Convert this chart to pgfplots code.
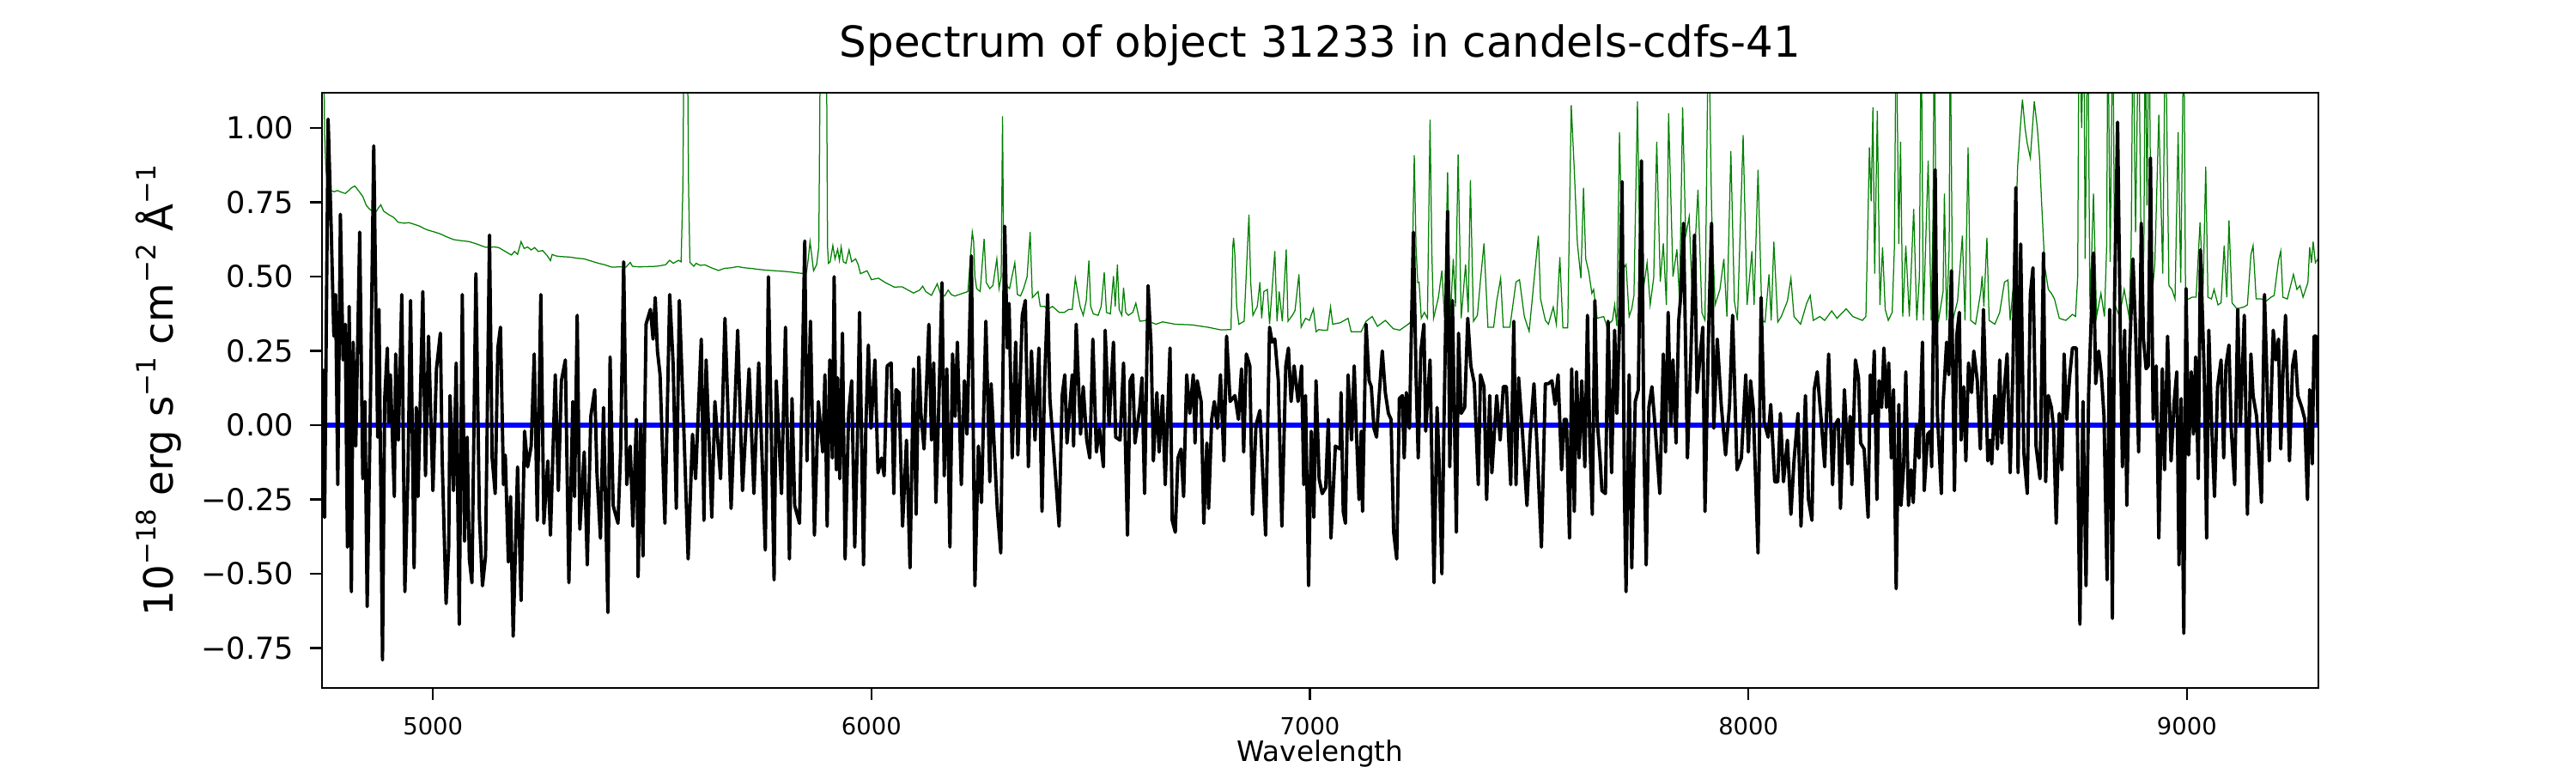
\documentclass[border=0pt]{standalone}
\usepackage{fontspec}
\setmainfont{DejaVu Sans}
\usepackage{pgfplots}
\pgfplotsset{compat=1.18}
\definecolor{mplgreen}{RGB}{0,128,0}
\definecolor{mplblue}{RGB}{0,0,255}
\newcommand\sups[1]{\raisebox{0.43em}{\fontsize{11.2}{12}\selectfont #1}}
\begin{document}
\begin{tikzpicture}
\path[use as bounding box] (0bp,0bp) rectangle (1080bp,324bp);
\begin{axis}[
  at={(135bp,35.64bp)}, anchor=south west,
  scale only axis, width=837bp, height=249.48bp,
  xmin=4747, xmax=9300, ymin=-0.884, ymax=1.119,
  clip mode=individual,
  axis line style={line width=0.9bp},
  axis on top,
  tick align=outside, major tick length=5bp,
  every tick/.style={line width=0.9bp, black},
  xtick pos=left, ytick pos=left,
  xtick={5000,6000,7000,8000,9000},
  xticklabels={5000,6000,7000,8000,9000},
  ytick={-0.75,-0.5,-0.25,0,0.25,0.5,0.75,1},
  yticklabels={−0.75,−0.50,−0.25,0.00,0.25,0.50,0.75,1.00},
  xticklabel style={font=\fontsize{9.9}{12}\selectfont, anchor=north, inner sep=0pt, yshift=-7.1bp},
  yticklabel style={font=\fontsize{12.7}{15}\selectfont, anchor=east, inner sep=0pt, xshift=-6.6bp},
  title={Spectrum of object 31233 in candels-cdfs-41},
  title style={font=\fontsize{18}{21}\selectfont, at={(axis description cs:0.5,1)}, anchor=base, inner sep=0pt, yshift=8.9bp},
  xlabel={Wavelength},
  xlabel style={font=\fontsize{11.8}{14}\selectfont, at={(axis description cs:0.5,0)}, anchor=base, inner sep=0pt, yshift=-30.8bp},
]
% error / sky spectrum
\addplot[mplgreen, line width=0.45bp] coordinates {
(4748,1.40) (4751,1.25) (4753,0.98) (4756,0.86) (4760,0.81) (4766,0.79) (4775,0.786) (4782,0.79) (4790,0.785) (4800,0.78)
(4808,0.79) (4815,0.80) (4822,0.805) (4830,0.79) (4840,0.77) (4848,0.74) (4855,0.728) (4862,0.72) (4869,0.715) (4875,0.73)
(4881,0.742) (4888,0.72) (4899,0.709) (4910,0.70) (4921,0.683) (4935,0.68) (4945,0.682) (4958,0.676) (4970,0.67) (4980,0.662)
(4988,0.657) (5000,0.652) (5017,0.644) (5030,0.635) (5047,0.625) (5060,0.622) (5083,0.618) (5100,0.61) (5120,0.599) (5140,0.600)
(5150,0.598) (5165,0.585) (5179,0.573) (5186,0.585) (5193,0.575) (5201,0.618) (5208,0.595) (5216,0.600) (5224,0.590) (5232,0.598)
(5240,0.585) (5250,0.588) (5260,0.572) (5268,0.554) (5272,0.575) (5280,0.570) (5290,0.568) (5312,0.566) (5330,0.562) (5345,0.560)
(5360,0.553) (5378,0.545) (5392,0.540) (5408,0.532) (5425,0.533) (5440,0.532) (5450,0.548) (5455,0.535) (5470,0.533) (5490,0.534)
(5510,0.535) (5530,0.540) (5540,0.555) (5548,0.545) (5560,0.555) (5566,0.550) (5570,0.80) (5573,1.40) (5577,1.40) (5580,1.40)
(5583,0.80) (5586,0.548) (5595,0.535) (5600,0.545) (5610,0.538) (5620,0.540) (5635,0.530) (5651,0.521) (5665,0.528) (5680,0.530)
(5695,0.534) (5710,0.530) (5725,0.528) (5740,0.525) (5760,0.522) (5780,0.520) (5800,0.518) (5815,0.516) (5830,0.513) (5842,0.511)
(5852,0.515) (5856,0.56) (5860,0.618) (5864,0.57) (5868,0.52) (5875,0.54) (5880,0.60) (5884,1.40) (5892,1.40) (5897,1.40)
(5900,0.60) (5902,0.545) (5906,0.55) (5912,0.605) (5917,0.56) (5923,0.592) (5927,0.555) (5931,0.60) (5936,0.55) (5942,0.545)
(5949,0.59) (5955,0.55) (5964,0.56) (5970,0.54) (5975,0.51) (5990,0.52) (6000,0.49) (6016,0.495) (6032,0.48) (6052,0.465)
(6070,0.466) (6096,0.445) (6110,0.455) (6117,0.468) (6124,0.45) (6137,0.437) (6150,0.476) (6158,0.44) (6167,0.435) (6175,0.455)
(6182,0.44) (6190,0.435) (6200,0.44) (6210,0.445) (6220,0.45) (6230,0.65) (6233,0.62) (6236,0.50) (6240,0.46) (6248,0.45)
(6257,0.627) (6262,0.48) (6270,0.46) (6277,0.47) (6286,0.56) (6291,0.46) (6296,0.50) (6299,1.04) (6302,0.48) (6308,0.47)
(6315,0.46) (6327,0.547) (6333,0.44) (6340,0.435) (6347,0.46) (6355,0.50) (6362,0.65) (6367,0.43) (6374,0.44) (6380,0.45)
(6385,0.40) (6395,0.40) (6402,0.39) (6413,0.40) (6428,0.38) (6440,0.38) (6450,0.39) (6458,0.39) (6465,0.495) (6470,0.45)
(6476,0.40) (6483,0.37) (6490,0.42) (6496,0.554) (6500,0.40) (6506,0.375) (6517,0.37) (6524,0.40) (6531,0.515) (6536,0.38)
(6545,0.375) (6552,0.502) (6556,0.40) (6561,0.541) (6565,0.39) (6571,0.37) (6575,0.463) (6580,0.38) (6586,0.37) (6596,0.38)
(6603,0.411) (6612,0.35) (6627,0.353) (6649,0.34) (6664,0.348) (6693,0.34) (6730,0.338) (6767,0.33) (6797,0.321) (6820,0.322)
(6824,0.60) (6826,0.631) (6829,0.57) (6833,0.40) (6838,0.34) (6850,0.35) (6861,0.709) (6865,0.48) (6870,0.37) (6880,0.40)
(6886,0.482) (6890,0.36) (6895,0.45) (6903,0.457) (6908,0.34) (6920,0.586) (6925,0.35) (6930,0.45) (6937,0.35) (6946,0.592)
(6950,0.35) (6960,0.37) (6966,0.386) (6975,0.508) (6980,0.33) (6990,0.36) (6999,0.353) (7008,0.392) (7014,0.315) (7020,0.322)
(7030,0.32) (7040,0.32) (7047,0.398) (7052,0.34) (7069,0.345) (7087,0.36) (7094,0.315) (7117,0.315) (7128,0.35) (7142,0.366)
(7154,0.333) (7172,0.353) (7190,0.325) (7205,0.32) (7224,0.34) (7232,0.35) (7236,0.75) (7238,0.909) (7242,0.60) (7246,0.48)
(7249,0.482) (7254,0.36) (7261,0.38) (7268,0.36) (7274,1.028) (7278,0.586) (7282,0.36) (7293,0.43) (7301,0.521) (7307,0.36)
(7314,0.851) (7320,0.36) (7327,0.56) (7332,0.40) (7338,0.911) (7345,0.36) (7355,0.541) (7361,0.38) (7366,0.825) (7373,0.35)
(7382,0.37) (7389,0.489) (7397,0.612) (7406,0.33) (7419,0.33) (7426,0.418) (7435,0.495) (7441,0.33) (7456,0.33) (7470,0.482)
(7478,0.49) (7489,0.366) (7500,0.316) (7521,0.638) (7526,0.425) (7537,0.353) (7544,0.34) (7555,0.398) (7562,0.34) (7570,0.566)
(7577,0.328) (7588,0.328) (7596,1.077) (7603,0.857) (7610,0.612) (7618,0.495) (7624,0.799) (7629,0.56) (7636,0.515) (7643,0.444)
(7647,0.457) (7655,0.36) (7670,0.366) (7677,0.334) (7690,0.353) (7695,0.405) (7700,0.334) (7706,0.986) (7713,0.521) (7721,0.541)
(7728,0.366) (7734,0.392) (7739,0.437) (7747,1.09) (7754,0.405) (7761,0.463) (7769,0.547) (7776,0.405) (7784,0.496) (7791,0.954)
(7799,0.483) (7806,0.612) (7813,0.405) (7818,1.05) (7828,0.50) (7837,0.592) (7843,0.418) (7850,1.07) (7857,0.638) (7865,0.702)
(7872,0.424) (7885,0.793) (7894,0.379) (7901,0.353) (7909,1.40) (7916,0.728) (7924,0.405) (7935,0.457) (7944,0.56) (7951,0.366)
(7960,0.922) (7968,0.418) (7975,0.353) (7988,0.976) (7997,0.405) (8008,0.586) (8013,0.405) (8022,0.86) (8031,0.353) (8038,0.347)
(8047,0.508) (8052,0.353) (8058,0.618) (8067,0.347) (8075,0.366) (8089,0.418) (8097,0.495) (8104,0.366) (8119,0.34) (8133,0.411)
(8141,0.437) (8148,0.353) (8163,0.366) (8174,0.353) (8190,0.385) (8202,0.36) (8223,0.392) (8238,0.366) (8260,0.353) (8268,0.366)
(8276,0.935) (8280,0.754) (8284,1.07) (8288,0.51) (8294,1.058) (8300,0.405) (8306,0.599) (8312,0.39) (8319,0.353) (8328,0.38)
(8333,0.60) (8337,1.40) (8343,0.61) (8347,0.954) (8352,0.366) (8359,0.605) (8367,0.366) (8377,0.728) (8384,0.353) (8390,0.50)
(8394,1.40) (8399,0.353) (8410,0.89) (8417,0.353) (8421,0.70) (8424,1.40) (8428,0.61) (8433,0.347) (8444,0.45) (8447,0.78)
(8452,0.353) (8458,0.60) (8460,1.40) (8466,0.353) (8477,0.418) (8488,0.638) (8494,0.353) (8501,0.935) (8507,0.353) (8518,0.34)
(8530,0.45) (8533,0.502) (8537,0.40) (8544,0.631) (8549,0.353) (8562,0.34) (8573,0.379) (8584,0.482) (8592,0.489) (8597,0.353)
(8606,0.50) (8614,0.87) (8620,1.00) (8625,1.096) (8631,1.00) (8636,0.948) (8643,0.90) (8652,1.09) (8659,1.00) (8664,0.90)
(8669,0.74) (8676,0.534) (8684,0.457) (8691,0.444) (8698,0.425) (8709,0.36) (8724,0.353) (8739,0.373) (8746,0.366) (8751,0.50)
(8754,1.40) (8760,1.00) (8765,1.40) (8768,0.56) (8774,1.40) (8779,0.39) (8787,0.78) (8794,0.366) (8804,0.444) (8812,0.366)
(8817,0.60) (8820,1.40) (8825,0.55) (8831,1.40) (8836,0.405) (8846,0.366) (8857,0.457) (8868,0.366) (8873,0.60) (8877,1.40)
(8883,0.65) (8890,1.40) (8897,0.379) (8902,0.60) (8905,1.40) (8909,0.74) (8914,1.40) (8919,0.405) (8927,0.547) (8936,1.045)
(8945,0.51) (8951,1.40) (8959,0.47) (8966,0.457) (8973,0.425) (8980,0.986) (8986,0.48) (8993,1.40) (8997,0.418) (9004,0.425)
(9012,0.431) (9021,0.431) (9030,0.683) (9037,0.457) (9043,0.87) (9048,0.431) (9056,0.425) (9062,0.457) (9071,0.405) (9078,0.412)
(9085,0.605) (9091,0.431) (9096,0.689) (9103,0.412) (9114,0.392) (9130,0.398) (9138,0.405) (9146,0.573) (9151,0.605) (9158,0.425)
(9170,0.425) (9181,0.418) (9192,0.431) (9199,0.437) (9209,0.554) (9214,0.586) (9219,0.431) (9229,0.425) (9243,0.508) (9251,0.457)
(9258,0.47) (9265,0.431) (9276,0.48) (9280,0.599) (9284,0.547) (9288,0.618) (9293,0.547) (9299,0.56) (9302,0.56)
};
% continuum model
\addplot[mplblue, line width=2.3bp] coordinates {(4747,0) (9300,0)};
% flux
\addplot[black, line width=1.4bp, line join=round] coordinates {
(4748,0.19) (4753,-0.31) (4761,1.03) (4768,0.66) (4774,0.30) (4778,0.44) (4783,-0.20) (4789,0.71) (4795,0.22) (4800,0.34)
(4805,-0.41) (4809,0.40) (4814,-0.56) (4818,0.28) (4824,-0.07) (4833,0.65) (4840,-0.18) (4845,0.08) (4850,-0.61) (4857,0.03)
(4865,0.94) (4870,0.39) (4874,-0.04) (4877,0.39) (4885,-0.79) (4890,0.09) (4896,0.26) (4899,0.01) (4903,0.17) (4912,-0.24)
(4915,0.24) (4921,-0.05) (4929,0.44) (4936,-0.56) (4943,-0.16) (4949,0.42) (4957,-0.48) (4962,0.06) (4966,-0.24) (4977,0.45)
(4983,-0.17) (4990,0.30) (5000,-0.22) (5008,0.19) (5017,0.31) (5021,-0.11) (5030,-0.60) (5036,-0.41) (5039,0.10) (5047,-0.22)
(5053,0.21) (5060,-0.67) (5067,0.44) (5072,-0.39) (5078,-0.04) (5083,-0.45) (5089,-0.53) (5098,0.51) (5106,-0.31) (5113,-0.54)
(5120,-0.44) (5129,0.64) (5135,-0.11) (5142,-0.23) (5148,0.26) (5154,0.33) (5161,-0.20) (5165,-0.10) (5172,-0.46) (5177,-0.24)
(5183,-0.71) (5193,-0.14) (5201,-0.59) (5209,-0.02) (5216,-0.14) (5224,-0.07) (5231,0.24) (5238,-0.32) (5246,0.44) (5253,-0.33)
(5262,-0.12) (5268,-0.37) (5279,0.17) (5286,-0.22) (5293,0.15) (5302,0.22) (5310,-0.53) (5319,0.08) (5323,-0.24) (5329,0.37)
(5335,-0.35) (5345,-0.09) (5352,-0.47) (5360,0.03) (5369,0.12) (5374,-0.16) (5382,-0.38) (5389,0.06) (5399,-0.63) (5404,0.23)
(5411,-0.27) (5422,-0.33) (5428,-0.09) (5435,0.55) (5442,-0.20) (5450,-0.07) (5456,-0.34) (5464,0.02) (5468,-0.51) (5474,0.00)
(5479,-0.44) (5486,0.34) (5496,0.39) (5502,0.29) (5507,0.43) (5512,0.25) (5518,0.17) (5529,-0.33) (5540,0.44) (5548,0.20)
(5555,-0.28) (5562,0.42) (5573,-0.05) (5582,-0.45) (5592,-0.03) (5599,-0.18) (5612,0.29) (5618,-0.32) (5623,0.22) (5636,-0.31)
(5643,0.08) (5656,-0.18) (5666,0.36) (5680,-0.28) (5695,0.32) (5706,-0.22) (5721,0.19) (5732,-0.23) (5743,0.21) (5758,-0.42)
(5765,0.50) (5778,-0.52) (5783,0.15) (5795,-0.23) (5804,0.33) (5813,-0.45) (5819,0.09) (5825,-0.27) (5836,-0.33) (5848,0.62)
(5853,-0.12) (5861,0.35) (5870,-0.37) (5879,0.08) (5889,-0.09) (5894,0.17) (5899,-0.34) (5905,0.22) (5911,-0.11) (5915,0.50)
(5920,-0.15) (5923,0.16) (5928,-0.18) (5934,0.31) (5940,-0.45) (5948,0.04) (5955,0.15) (5962,-0.41) (5968,-0.05) (5973,0.38)
(5982,-0.47) (5987,-0.02) (5993,0.27) (5999,-0.01) (6008,0.22) (6015,-0.16) (6023,-0.11) (6029,-0.17) (6036,0.20) (6045,0.21)
(6051,-0.23) (6056,0.12) (6063,0.11) (6071,-0.34) (6080,-0.05) (6088,-0.48) (6096,0.19) (6102,-0.30) (6108,0.23) (6113,0.04)
(6120,-0.08) (6131,0.34) (6137,-0.05) (6142,0.21) (6147,-0.26) (6152,-0.02) (6161,0.48) (6166,-0.17) (6172,0.19) (6179,-0.41)
(6185,0.24) (6191,0.03) (6196,0.28) (6205,-0.20) (6212,0.15) (6218,-0.03) (6228,0.57) (6236,-0.54) (6244,-0.07) (6251,-0.26)
(6261,0.35) (6270,-0.19) (6273,0.14) (6287,-0.28) (6295,-0.43) (6304,0.67) (6310,0.26) (6314,0.41) (6321,-0.11) (6329,0.28)
(6334,-0.10) (6344,0.37) (6351,0.42) (6358,-0.14) (6365,0.25) (6373,-0.05) (6382,0.26) (6389,-0.29) (6395,0.15) (6402,0.44)
(6407,0.09) (6417,-0.11) (6428,-0.34) (6435,0.10) (6441,0.17) (6446,-0.06) (6458,0.17) (6461,-0.07) (6467,0.34) (6477,-0.03)
(6483,0.13) (6491,-0.05) (6498,-0.11) (6505,0.29) (6513,-0.09) (6520,-0.01) (6529,-0.14) (6533,0.32) (6542,0.00) (6552,0.28)
(6557,-0.04) (6567,-0.05) (6575,0.21) (6584,-0.37) (6590,0.15) (6596,0.17) (6601,-0.06) (6612,0.06) (6617,0.16) (6623,-0.23)
(6631,0.47) (6638,0.26) (6643,-0.12) (6651,0.11) (6656,-0.09) (6664,0.10) (6670,-0.20) (6681,0.26) (6686,-0.32) (6693,-0.36)
(6699,-0.11) (6706,-0.08) (6712,-0.24) (6719,0.17) (6726,0.04) (6734,0.17) (6738,-0.06) (6743,0.15) (6752,0.08) (6758,-0.33)
(6765,-0.06) (6769,-0.28) (6776,0.02) (6782,0.08) (6789,-0.01) (6796,0.17) (6804,-0.12) (6810,0.30) (6818,0.08) (6829,0.10)
(6837,0.02) (6844,0.19) (6849,-0.09) (6855,0.24) (6863,0.20) (6869,-0.30) (6877,0.00) (6886,0.05) (6892,-0.15) (6899,-0.37)
(6908,0.33) (6914,0.28) (6920,0.29) (6928,0.15) (6936,-0.34) (6945,0.20) (6951,0.26) (6957,0.08) (6964,0.20) (6973,0.08)
(6981,0.20) (6986,-0.20) (6990,0.10) (6997,-0.54) (7003,-0.02) (7009,-0.31) (7014,0.15) (7021,-0.18) (7028,-0.23) (7036,-0.21)
(7042,0.02) (7048,-0.38) (7058,-0.07) (7069,-0.08) (7071,0.11) (7076,-0.29) (7081,-0.33) (7087,0.17) (7095,-0.05) (7101,0.20)
(7106,-0.02) (7112,-0.25) (7117,-0.02) (7120,-0.29) (7128,0.34) (7135,0.15) (7140,0.13) (7146,-0.01) (7152,-0.04) (7157,0.08)
(7165,0.25) (7172,0.11) (7179,0.04) (7185,0.02) (7191,-0.36) (7198,-0.45) (7204,0.09) (7211,0.10) (7215,-0.11) (7220,0.11)
(7227,-0.01) (7236,0.65) (7242,0.17) (7247,-0.11) (7253,0.25) (7260,0.34) (7264,-0.02) (7274,0.22) (7283,-0.53) (7290,0.06)
(7295,-0.14) (7301,-0.50) (7306,0.03) (7314,0.72) (7319,-0.14) (7325,0.42) (7334,-0.36) (7339,0.31) (7345,0.04) (7353,0.06)
(7360,0.36) (7367,0.20) (7375,0.14) (7384,-0.20) (7389,0.17) (7397,0.13) (7403,-0.25) (7410,0.10) (7415,-0.16) (7426,0.10)
(7434,-0.05) (7441,0.13) (7448,0.13) (7458,-0.20) (7465,0.35) (7470,-0.20) (7476,0.16) (7485,-0.03) (7495,-0.27) (7502,-0.04)
(7511,0.14) (7518,-0.07) (7528,-0.41) (7537,0.14) (7544,0.14) (7552,0.15) (7559,0.07) (7566,0.17) (7574,-0.15) (7580,0.02)
(7585,0.02) (7592,-0.38) (7597,0.19) (7603,-0.29) (7608,0.18) (7614,-0.11) (7620,0.15) (7627,-0.14) (7633,0.37) (7638,-0.03)
(7644,-0.30) (7650,0.42) (7655,0.02) (7662,-0.12) (7666,-0.22) (7674,-0.23) (7680,0.35) (7688,-0.16) (7695,0.32) (7700,0.04)
(7706,0.33) (7712,0.82) (7717,-0.20) (7721,-0.56) (7728,0.17) (7734,-0.48) (7742,0.08) (7749,0.12) (7756,0.89) (7762,-0.09)
(7767,-0.47) (7773,0.06) (7780,0.13) (7787,0.00) (7798,-0.23) (7806,0.24) (7811,-0.09) (7817,0.38) (7823,0.00) (7828,0.22)
(7835,-0.06) (7841,0.35) (7846,0.44) (7852,0.68) (7861,-0.11) (7868,0.20) (7877,0.64) (7883,0.11) (7889,0.22) (7896,0.33)
(7901,-0.29) (7909,0.30) (7916,0.68) (7921,-0.01) (7929,0.29) (7938,0.07) (7948,-0.10) (7957,0.07) (7964,0.37) (7974,-0.15)
(7984,-0.11) (7994,0.17) (8000,-0.09) (8005,0.15) (8011,0.06) (8022,-0.43) (8029,0.43) (8036,0.01) (8045,-0.04) (8051,0.07)
(8060,-0.19) (8067,-0.19) (8073,0.04) (8080,-0.19) (8089,-0.05) (8097,-0.30) (8104,-0.12) (8113,0.04) (8120,-0.34) (8130,0.10)
(8137,-0.25) (8145,-0.32) (8150,0.12) (8157,0.18) (8167,0.00) (8174,-0.14) (8183,0.24) (8192,-0.20) (8197,0.00) (8205,0.02)
(8210,-0.28) (8219,0.12) (8227,-0.13) (8232,0.03) (8236,-0.20) (8244,0.22) (8251,0.16) (8256,-0.06) (8264,-0.08) (8273,-0.31)
(8278,0.17) (8282,0.04) (8287,0.25) (8293,-0.25) (8298,0.15) (8304,0.06) (8309,0.26) (8315,0.06) (8320,0.21) (8326,-0.11)
(8331,0.12) (8337,-0.55) (8343,0.07) (8348,-0.27) (8354,-0.14) (8359,0.18) (8365,-0.27) (8371,-0.15) (8376,-0.26) (8383,0.00)
(8389,-0.11) (8397,0.28) (8401,-0.22) (8409,-0.03) (8415,-0.02) (8418,-0.14) (8426,0.86) (8431,0.04) (8440,-0.23) (8444,0.07)
(8452,0.28) (8457,0.17) (8463,0.52) (8470,-0.22) (8475,0.30) (8481,0.38) (8485,-0.05) (8491,0.13) (8496,-0.12) (8502,0.21)
(8509,0.11) (8514,0.25) (8522,0.15) (8529,-0.08) (8536,0.39) (8546,-0.12) (8551,-0.05) (8555,-0.13) (8562,0.10) (8568,-0.08)
(8573,0.22) (8578,-0.06) (8584,0.13) (8590,0.24) (8597,-0.16) (8603,0.17) (8610,0.80) (8615,-0.16) (8621,0.61) (8628,-0.09)
(8636,-0.23) (8643,0.44) (8649,0.53) (8656,-0.07) (8665,-0.18) (8673,0.58) (8678,-0.19) (8684,0.10) (8691,0.06) (8696,-0.01)
(8702,-0.33) (8709,0.04) (8715,-0.15) (8720,0.24) (8726,0.02) (8733,0.17) (8739,0.26) (8748,0.26) (8756,-0.67) (8763,0.08)
(8770,-0.54) (8776,0.11) (8787,0.58) (8792,0.14) (8799,0.25) (8805,0.17) (8811,0.03) (8818,-0.52) (8824,0.39) (8830,-0.65)
(8835,0.43) (8842,1.02) (8848,0.32) (8853,-0.14) (8858,0.32) (8863,-0.27) (8869,0.22) (8877,0.56) (8883,0.32) (8890,-0.09)
(8896,0.68) (8901,0.29) (8907,0.19) (8912,0.20) (8917,0.90) (8923,0.02) (8930,0.20) (8936,-0.38) (8944,0.19) (8949,-0.15)
(8956,0.30) (8964,-0.12) (8971,0.08) (8977,0.18) (8982,-0.47) (8987,0.09) (8993,-0.70) (8998,0.46) (9004,-0.10) (9010,0.18)
(9015,-0.03) (9020,0.23) (9026,-0.18) (9031,0.59) (9040,0.15) (9045,-0.38) (9050,0.32) (9056,0.02) (9063,-0.24) (9070,0.13)
(9078,0.22) (9084,-0.11) (9089,0.20) (9096,0.27) (9101,-0.01) (9109,-0.20) (9116,0.39) (9122,0.00) (9131,0.37) (9138,-0.30)
(9146,0.24) (9151,0.10) (9159,0.03) (9170,-0.26) (9177,0.44) (9188,-0.12) (9197,0.32) (9203,0.22) (9209,0.29) (9214,-0.08)
(9219,0.17) (9225,0.37) (9234,-0.12) (9241,0.20) (9247,0.25) (9253,0.10) (9262,0.06) (9269,0.02) (9275,-0.25) (9280,0.12)
(9286,-0.13) (9290,0.30) (9295,0.30) (9299,0.00)
};
\node[rotate=90, anchor=base, inner sep=0pt, font=\fontsize{16.9}{20}\selectfont] at (axis description cs:-0.07455,0.5)
  {10\sups{−18} erg s\sups{−1} cm\sups{−2} Å\sups{−1}};
\end{axis}
\end{tikzpicture}
\end{document}
